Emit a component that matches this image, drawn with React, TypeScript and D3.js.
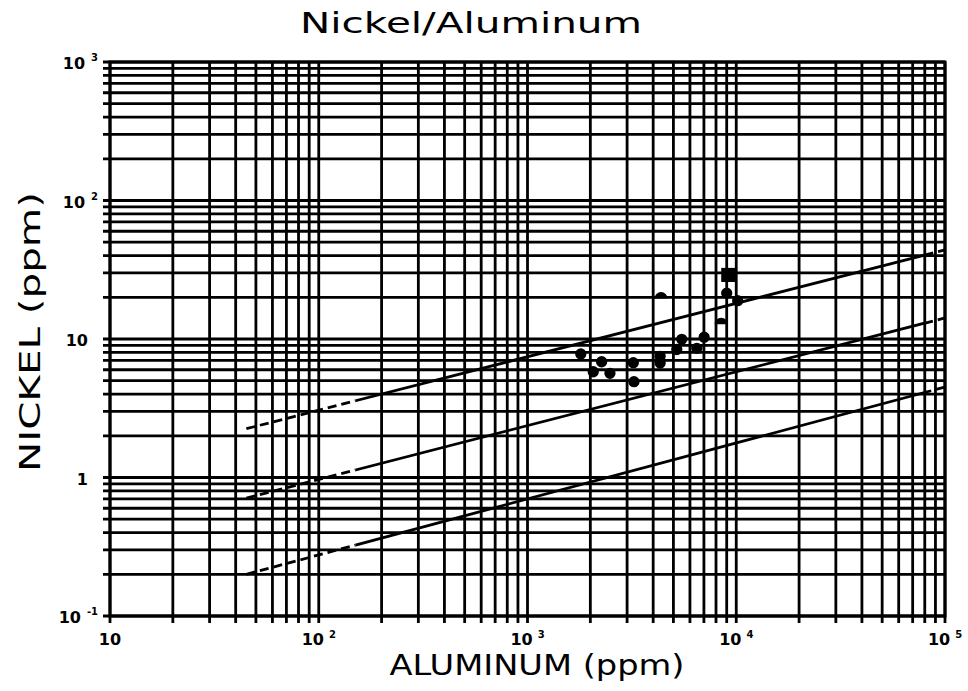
import React from "react";
import * as d3 from "d3";

// ---- Data ----
const xTickValues = [10, 100, 1000, 10000, 100000];
const xTickBase = ["10", "10", "10", "10", "10"];
const xTickExps = ["", "2", "3", "4", "5"];
const yTickValues = [0.1, 1, 10, 100, 1000];
const yTickBase = ["10", "1", "10", "10", "10"];
const yTickExps = ["-1", "", "", "2", "3"];

// filled round points
const aluminumDots = [1800, 2265, 2065, 2483, 3213, 3236, 4319, 4319, 5190, 5483, 6474, 7018, 9000, 10160];
const nickelDots = [7.8, 6.85, 5.8, 5.65, 6.75, 4.92, 7.5, 6.7, 8.4, 9.95, 8.57, 10.3, 21.4, 18.9];
// half-round points
const aluminumHalf = [4363, 8467];
const nickelHalf = [19.6, 12.8];
// square point
const aluminumSquare = [9160];
const nickelSquare = [29];

// reference lines (start / end)
const lineAlStart = 45;
const lineAlEnd = 100000;
const lineSolidFrom = 150;
const lineSolidTo = 80000;
const lineNiStart = [2.25, 0.71, 0.2];
const lineNiEnd = [44, 14.2, 4.5];

const W = 968;
const H = 691;
const L = 110, R = 945, T = 62, B = 616;

export default function App() {
  const x = d3.scaleLog().domain([10, 100000]).range([L, R]);
  const y = d3.scaleLog().domain([0.1, 1000]).range([B, T]);
  const xGrid = x.ticks();
  const yGrid = y.ticks();
  const font = "'DejaVu Sans', sans-serif";
  const line = d3.line<[number, number]>().x((d) => x(d[0])).y((d) => y(d[1]));
  const halfArc = d3.arc()({ innerRadius: 0, outerRadius: 6.5, startAngle: -Math.PI / 2, endAngle: Math.PI / 2 }) as string;
  const sq = d3.symbol().type(d3.symbolSquare).size(200)() as string;
  const dot = d3.symbol().type(d3.symbolCircle).size(100)() as string;

  return (
    <svg width={W} height={H} style={{ position: "absolute", left: 0, top: 0, background: "#fff" }}>
      <defs>
        <clipPath id="solidPart">
          <rect x={x(lineSolidFrom)} y={0} width={x(lineSolidTo) - x(lineSolidFrom)} height={H} />
        </clipPath>
        <clipPath id="dashLeft">
          <rect x={0} y={0} width={x(lineSolidFrom)} height={H} />
        </clipPath>
        <clipPath id="dashRight">
          <rect x={x(lineSolidTo)} y={0} width={W - x(lineSolidTo)} height={H} />
        </clipPath>
      </defs>
      <rect x={0} y={0} width={W} height={H} fill="#fff" />
      {/* grid */}
      <g stroke="#000" strokeWidth={2.8}>
        {xGrid.map((v, i) => (
          <line key={"xg" + i} x1={x(v)} x2={x(v)} y1={T} y2={B + 7} />
        ))}
        {yGrid.map((v, i) => (
          <line key={"yg" + i} x1={L - 7} x2={R} y1={y(v)} y2={y(v)} />
        ))}
        <rect x={L} y={T} width={R - L} height={B - T} fill="none" strokeWidth={3} />
      </g>
      {/* reference lines */}
      <g stroke="#000" strokeWidth={2.8} fill="none">
        {lineNiStart.map((s, i) => {
          const d = line([[lineAlStart, s], [lineAlEnd, lineNiEnd[i]]]) as string;
          return (
            <g key={"l" + i}>
              <path d={d} clipPath="url(#solidPart)" />
              <path d={d} clipPath="url(#dashLeft)" strokeDasharray="9 5" />
              <path d={d} clipPath="url(#dashRight)" strokeDasharray="9 5" />
            </g>
          );
        })}
      </g>
      {/* points */}
      <g fill="#000">
        {aluminumDots.map((a, i) => (
          <path key={"d" + i} d={dot} transform={`translate(${x(a)},${y(nickelDots[i])})`} />
        ))}
        {aluminumHalf.map((a, i) => (
          <path key={"h" + i} d={halfArc} transform={`translate(${x(a)},${y(nickelHalf[i])})`} />
        ))}
        {aluminumSquare.map((a, i) => (
          <path key={"s" + i} d={sq} transform={`translate(${x(a)},${y(nickelSquare[i])})`} />
        ))}
      </g>
      {/* tick labels */}
      <g fontFamily={font} fontWeight="bold" fill="#000">
        {xTickValues.map((v, i) => (
          <text key={"xt" + i} x={x(v)} y={645} textAnchor="middle" fontSize={16}>
            {xTickBase[i]}
            {xTickExps[i] ? (
              <tspan dx={5} dy={-7} fontSize={10}>{xTickExps[i]}</tspan>
            ) : null}
          </text>
        ))}
        {yTickValues.map((v, i) => (
          <text
            key={"yt" + i}
            x={yTickExps[i] ? 98 : 88}
            y={y(v) + 7}
            textAnchor="end"
            fontSize={16}
          >
            {yTickBase[i]}
            {yTickExps[i] ? (
              <tspan dx={6} dy={-8} fontSize={10}>{yTickExps[i]}</tspan>
            ) : null}
          </text>
        ))}
      </g>
      {/* titles */}
      <g fontFamily={font} fill="#000">
        <text x={471} y={33} textAnchor="middle" fontSize={29} textLength={342} lengthAdjust="spacingAndGlyphs">
          Nickel/Aluminum
        </text>
        <text x={537} y={675} textAnchor="middle" fontSize={28} textLength={295} lengthAdjust="spacingAndGlyphs">
          ALUMINUM (ppm)
        </text>
        <text
          transform="translate(40,332) rotate(-90)"
          textAnchor="middle"
          fontSize={29}
          textLength={280}
          lengthAdjust="spacingAndGlyphs"
        >
          NICKEL (ppm)
        </text>
      </g>
    </svg>
  );
}
